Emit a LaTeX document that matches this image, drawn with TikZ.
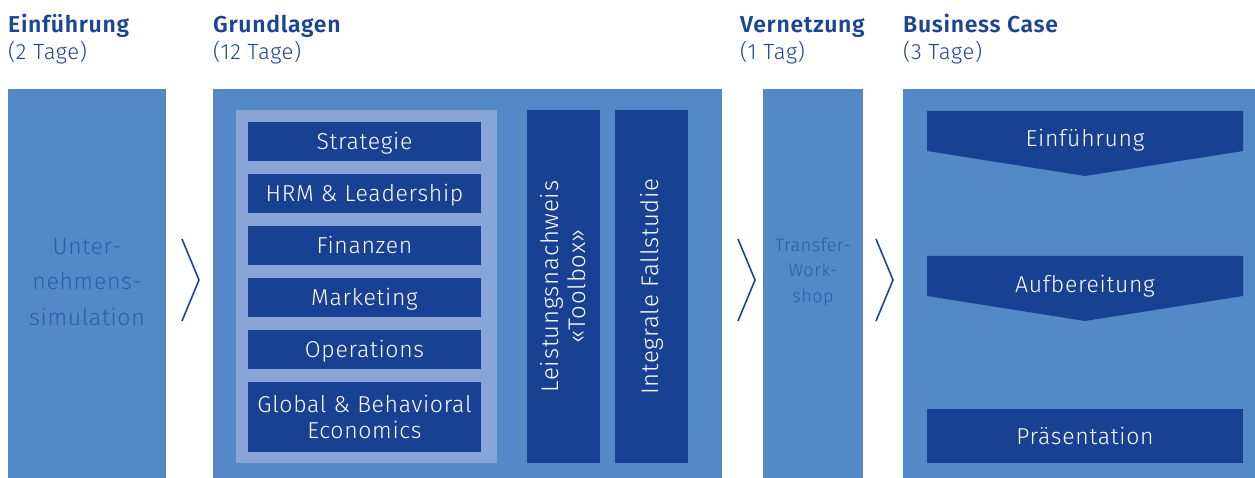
\documentclass[tikz,border=0pt]{standalone}
\usepackage{fontspec}
\setmainfont{Fira Sans Light}[LetterSpace=3]
\newfontfamily\boldfont{Fira Sans SemiBold}[LetterSpace=3]
\definecolor{midblue}{HTML}{5588C7}
\definecolor{darkblue}{HTML}{184193}
\definecolor{lightblue}{HTML}{87A6D7}
\definecolor{headblue}{HTML}{1E4494}
\definecolor{darktxt}{HTML}{2F5BA8}
\tikzset{
  col/.style={fill=midblue, draw=none},
  item/.style={fill=darkblue, draw=none, text=white, font=\fontsize{23}{26}\selectfont, inner sep=0pt, text height=16pt, text depth=0pt},
  itemtwo/.style={fill=darkblue, draw=none, text=white, font=\fontsize{23}{26}\selectfont, inner sep=0pt},
  wlabel/.style={text=white, font=\fontsize{23}{26}\selectfont, inner sep=0pt, text height=16pt, text depth=0pt},
  headb/.style={anchor=base west, text=headblue, inner sep=0pt, font=\boldfont\fontsize{23}{26}\selectfont},
  headl/.style={anchor=base west, text=headblue, inner sep=0pt, font=\fontsize{22}{26}\selectfont},
  chev/.style={draw=headblue, line width=1.6pt},
}
\begin{document}
\begin{tikzpicture}[x=1pt,y=-1pt]
\useasboundingbox (0,0) rectangle (1255,478);
% headers
\node[headb] (h1) at (8,33) {Einführung};
\node[headl] (h1d) at (8,60) {(2 Tage)};
\node[headb] (h2) at (213,33) {Grundlagen};
\node[headl] (h2d) at (213,60) {(12 Tage)};
\node[headb] (h3) at (740,33) {Vernetzung};
\node[headl] (h3d) at (740,60) {(1 Tag)};
\node[headb] (h4) at (903,33) {Business Case};
\node[headl] (h4d) at (903,60) {(3 Tage)};
% columns
\fill[col] (8,89) rectangle (166,478);
\fill[col] (213,89) rectangle (722,478);
\fill[col] (763,89) rectangle (863,478);
\fill[col] (903,89) rectangle (1255,478);
\node[text=darktxt, align=center, font=\fontsize{23}{35.5}\selectfont] (u) at (87,282) {Unter-\\nehmens-\\simulation};
\node[text=darktxt, align=center, font=\fontsize{18}{25.5}\selectfont] (t) at (813,272) {Transfer-\\Work-\\shop};
% Grundlagen
\fill[lightblue] (236,110) rectangle (497,463);
\node[item, minimum width=233, minimum height=39] (s1) at (364.5,141.5) {Strategie};
\node[item, minimum width=233, minimum height=39] (s2) at (364.5,193.5) {HRM \& Leadership};
\node[item, minimum width=233, minimum height=39] (s3) at (364.5,245.5) {Finanzen};
\node[item, minimum width=233, minimum height=39] (s4) at (364.5,297.5) {Marketing};
\node[item, minimum width=233, minimum height=39] (s5) at (364.5,349.5) {Operations};
\node[itemtwo, minimum width=233, minimum height=70, align=center] (s6) at (364.5,417) {Global \& Behavioral\\Economics};
\node[itemtwo, minimum width=353, minimum height=73, rotate=90, align=center, font=\fontsize{24}{27}\selectfont] (v1) at (563.5,286.5) {Leistungsnachweis\\«Toolbox»};
\node[itemtwo, minimum width=353, minimum height=73, rotate=90, font=\fontsize{24}{27}\selectfont] (v2) at (651.5,286.5) {Integrale Fallstudie};
% chevrons between columns
\coordinate (c1a) at (182,239); \coordinate (c1b) at (199,280); \coordinate (c1c) at (182,321);
\coordinate (c2a) at (738,239); \coordinate (c2b) at (755,280); \coordinate (c2c) at (738,321);
\coordinate (c3a) at (876,239); \coordinate (c3b) at (893,280); \coordinate (c3c) at (876,321);
\draw[chev] (c1a) -- (c1b) -- (c1c);
\draw[chev] (c2a) -- (c2b) -- (c2c);
\draw[chev] (c3a) -- (c3b) -- (c3c);
% Business case
\fill[darkblue] (927,111) -- (1243,111) -- (1243,151) -- (1085,176) -- (927,151) -- cycle;
\node[wlabel] (b1) at (1085,139) {Einführung};
\fill[darkblue] (927,256) -- (1243,256) -- (1243,296) -- (1085,321) -- (927,296) -- cycle;
\node[wlabel] (b2) at (1085,284) {Aufbereitung};
\node[item, minimum width=316, minimum height=54] (b3) at (1085,436) {Präsentation};
\end{tikzpicture}
\end{document}
